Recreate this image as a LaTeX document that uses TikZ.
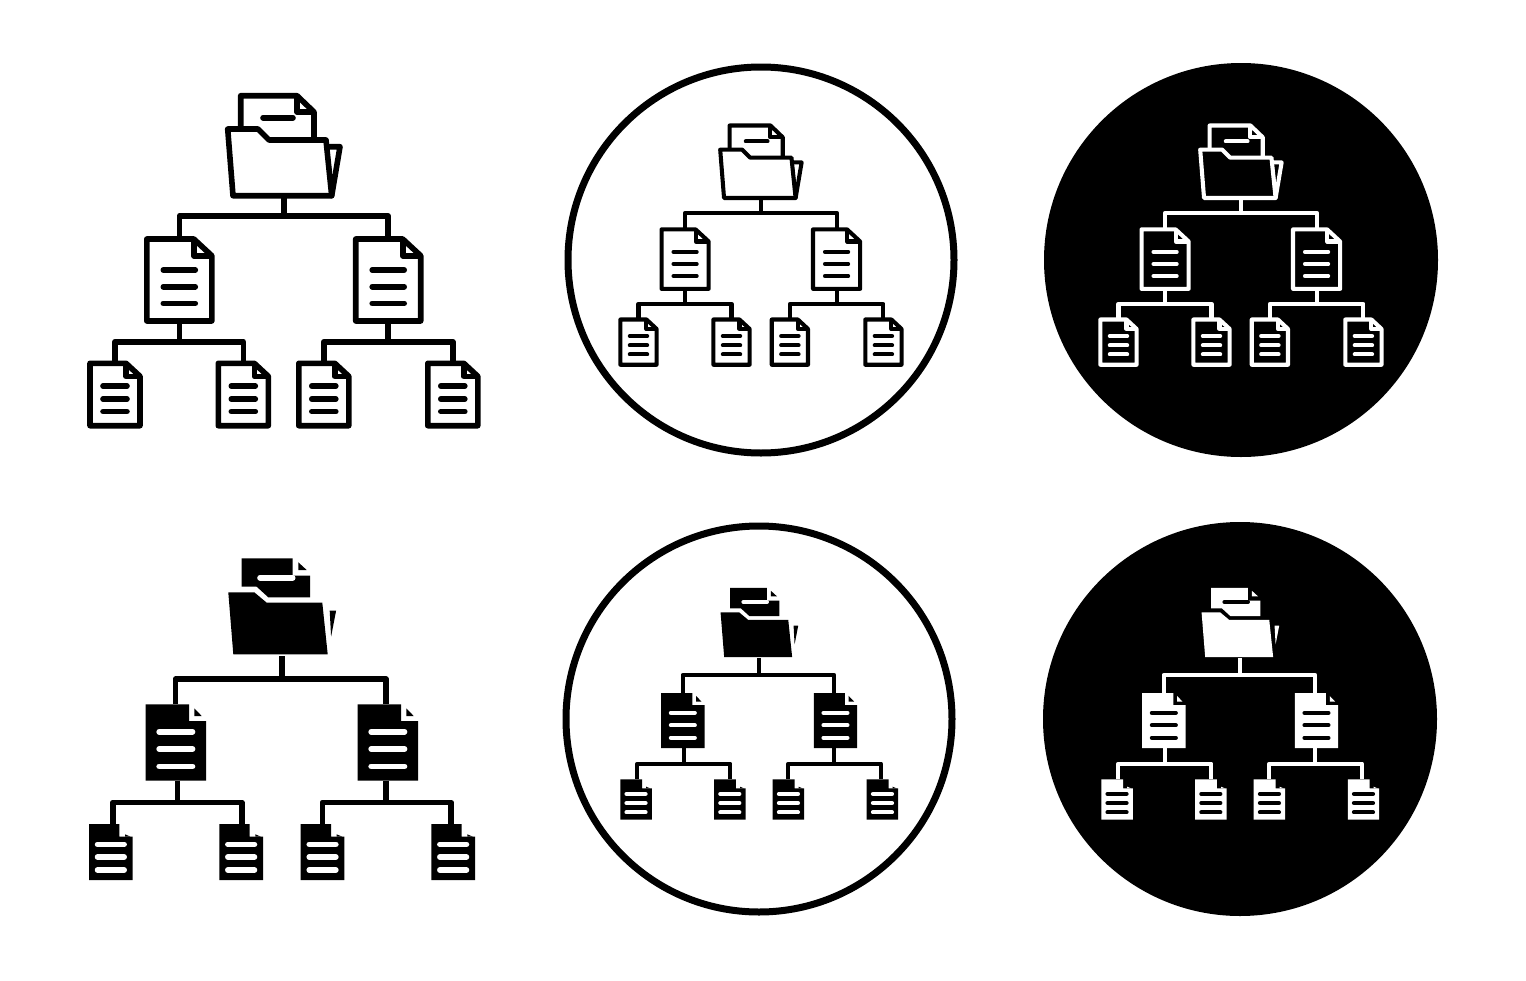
\documentclass[tikz,border=0pt]{standalone}
\usepackage{xcolor}
\usetikzlibrary{calc}
\tikzstyle{holder}=[%
      rectangle, inner sep=0pt, outer sep=0pt, transform shape
]
\tikzstyle{ring}=[%
      circle, draw=black, line width=7pt, fill=white, minimum size=386pt, inner sep=0pt
]
\tikzstyle{disk}=[%
      circle, fill=black, minimum size=394pt, inner sep=0pt
]

% page with turned corner: name, fold w, fold h, line half width, line offsets
\newcommand{\outlinepage}[5]{
    \draw[iconline, fill=iconbg] (#1.north west) -- ($(#1.north east)+(-#2,0)$) -- ($(#1.north east)+(0,#3)$)
          -- (#1.south east) -- (#1.south west) -- cycle;
    \draw[iconline] ($(#1.north east)+(-#2,0)$) -- ++(0,#3) -- ++(#2,0);
    \foreach \yy in {#5}
        \draw[iconline, line cap=round] ($(#1.center)+(-#4,\yy)$) -- ++(2*#4,0);
}
% page with notch: name, notch w, notch h, corner x, corner y, corner w, corner h, line half width, line offsets
\newcommand{\solidpage}[9]{
    \fill[iconfg] (#1.north west) -- ($(#1.north east)+(-#2,0)$) -- ++(0,#3) -- ++(#2,0)
          -- (#1.south east) -- (#1.south west) -- cycle;
    \fill[iconfg] ($(#1.north east)+(-#4,#5)$) -- ++(#6,#7) -- ++(-#6,0) -- cycle;
    \foreach \yy in {#9}
        \draw[iconcut] ($(#1.center)+(-#8,\yy)$) -- ++(2*#8,0);
}

% prefix, shift x, shift y, scale, ink, paper
\newcommand{\outlinetree}[6]{
  \begin{scope}[shift={(#2,#3)}, scale=#4, name prefix=#1-,
      iconline/.style={draw=#5, line width=#4*5.6pt, line join=round}]
    \colorlet{iconbg}{#6}
    \node[holder, minimum width=112.6pt, minimum height=66.7pt] (f)  at (284,162.35) {};
    \node[holder, minimum width=65pt, minimum height=82pt]      (dl) at (179.3,280) {};
    \node[holder, minimum width=65pt, minimum height=82pt]      (dr) at (388.2,280) {};
    \node[holder, minimum width=50pt, minimum height=62.4pt]    (a)  at (115,394.5) {};
    \node[holder, minimum width=50pt, minimum height=62.4pt]    (b)  at (243.3,394.5) {};
    \node[holder, minimum width=50pt, minimum height=62.4pt]    (c)  at (323.8,394.5) {};
    \node[holder, minimum width=50pt, minimum height=62.4pt]    (d)  at (452.8,394.5) {};

    \draw[iconline, fill=iconbg] (240.7,140) |- (297,95.7) -- (314,112) -- (314,145) -- (240.7,145) -- cycle;
    \draw[iconline] (297,95.7) -- (297,112) -- (314,112);
    \draw[iconline, line cap=round] (263,117.7) -- (293,117.7);
    \draw[iconline, fill=iconbg] ($(f.north east)+(-14.3,17.7)$) -- ++(14,0) -- ++(-8.3,49) -- cycle;
    \draw[iconline, fill=iconbg] (f.north west) -- ++(30.3,0) -- ++(11,11) -- ++(57,0) -- ++(5.7,55.7) -- ++(-98.7,0) -- cycle;

    \outlinepage{dl}{18}{16.7}{16}{-10,6.7,23.3}
    \outlinepage{dr}{18}{16.7}{16}{-10,6.7,23.3}
    \foreach \n in {a,b,c,d} {
        \outlinepage{\n}{14}{13}{12}{-8.5,4.5,17}
    }

    \path[iconline]
          (f.south) edge[to path={-- ++(0,20.3) -| (\tikztotarget)}] (dl.north)
          (f.south) edge[to path={-- ++(0,20.3) -| (\tikztotarget)}] (dr.north)
          (dl.south) edge[to path={-- ++(0,20.7) -| (\tikztotarget)}] (a.north)
          (dl.south) edge[to path={-- ++(0,20.7) -| (\tikztotarget)}] (b.north)
          (dr.south) edge[to path={-- ++(0,20.7) -| (\tikztotarget)}] (c.north)
          (dr.south) edge[to path={-- ++(0,20.7) -| (\tikztotarget)}] (d.north)
    ;
  \end{scope}
}

% prefix, shift x, shift y, scale, ink, paper
\newcommand{\solidtree}[6]{
  \begin{scope}[shift={(#2,#3)}, scale=#4, name prefix=#1-,
      iconline/.style={draw=#5, line width=#4*5.6pt, line join=round},
      iconfg/.style={#5},
      iconcut/.style={draw=#6, line width=#4*5.6pt, line cap=round}]
    \node[holder, minimum width=107.4pt, minimum height=62pt] (f)  at (282,623.3) {};
    \node[holder, minimum width=60.3pt, minimum height=76.4pt] (dl) at (175.85,742.5) {};
    \node[holder, minimum width=60.3pt, minimum height=76.4pt] (dr) at (387.85,742.5) {};
    \node[holder, minimum width=43.7pt, minimum height=56pt]   (a)  at (110.85,852) {};
    \node[holder, minimum width=43.7pt, minimum height=56pt]   (b)  at (241.15,852) {};
    \node[holder, minimum width=43.7pt, minimum height=56pt]   (c)  at (322.55,852) {};
    \node[holder, minimum width=43.7pt, minimum height=56pt]   (d)  at (453.15,852) {};

    \fill[iconfg] (241.7,558.3) -- (292.7,558.3) -- (292.7,575.7) -- (310,575.7) -- (310,597.3)
          -- (268.3,597.3) -- (256.7,586.7) -- (241.7,586.7) -- cycle;
    \fill[iconfg] (298.3,562.3) -- (306.7,570) -- (298.3,570) -- cycle;
    \draw[iconcut] (260,577.7) -- (292.7,577.7);
    \fill[iconfg] (f.north west) -- ++(26,0) -- ++(12.4,10.4) -- ++(55.6,0) -- ++(5.4,51.6) -- ++(-94.4,0) -- cycle;
    \fill[iconfg] ($(f.north east)+(-6,18.4)$) -- ++(6.4,0) -- ++(-5,26) -- cycle;

    \solidpage{dl}{17}{16.7}{11.7}{4}{7.4}{7.7}{16.7}{-10.8,6.5,23.8}
    \solidpage{dr}{17}{16.7}{11.7}{4}{7.4}{7.7}{16.7}{-10.8,6.5,23.8}
    \foreach \n in {a,b,c,d} {
        \solidpage{\n}{13.4}{12.7}{7.7}{10.3}{5.7}{2.4}{13.3}{-7.7,5,18}
    }

    \path[iconline]
          ([yshift=-1.7pt]f.south) edge[to path={-- ++(0,23) -| (\tikztotarget)}] ([xshift=-0.3pt]dl.north)
          ([yshift=-1.7pt]f.south) edge[to path={-- ++(0,23) -| (\tikztotarget)}] ([xshift=-1.85pt]dr.north)
          ([xshift=1.45pt]dl.south) edge[to path={-- ++(0,21.6) -| (\tikztotarget)}] ([xshift=1.85pt]a.north)
          ([xshift=1.45pt]dl.south) edge[to path={-- ++(0,21.6) -| (\tikztotarget)}] ([xshift=0.55pt]b.north)
          ([xshift=-1.85pt]dr.south) edge[to path={-- ++(0,21.6) -| (\tikztotarget)}] ([xshift=-0.25pt]c.north)
          ([xshift=-1.85pt]dr.south) edge[to path={-- ++(0,21.6) -| (\tikztotarget)}] ([xshift=-2.15pt]d.north)
    ;
  \end{scope}
}

\begin{document}
\begin{tikzpicture}[x=1pt, y=-1pt]
    \useasboundingbox[fill=white] (0,0) rectangle (1526,980);

    \node[ring] (ringtop)    at (761,260) {};
    \node[disk] (disktop)    at (1241,260) {};
    \node[ring] (ringbottom) at (759,719) {};
    \node[disk] (diskbottom) at (1240,719) {};

    \outlinetree{one}{0}{0}{1}{black}{white}
    \outlinetree{two}{555.1}{56.1}{0.725}{black}{white}
    \outlinetree{three}{1035.1}{56.1}{0.725}{white}{black}
    \solidtree{four}{0}{0}{1}{black}{white}
    \solidtree{five}{556.2}{186}{0.72}{black}{white}
    \solidtree{six}{1037.2}{186}{0.72}{white}{black}
\end{tikzpicture}
\end{document}
